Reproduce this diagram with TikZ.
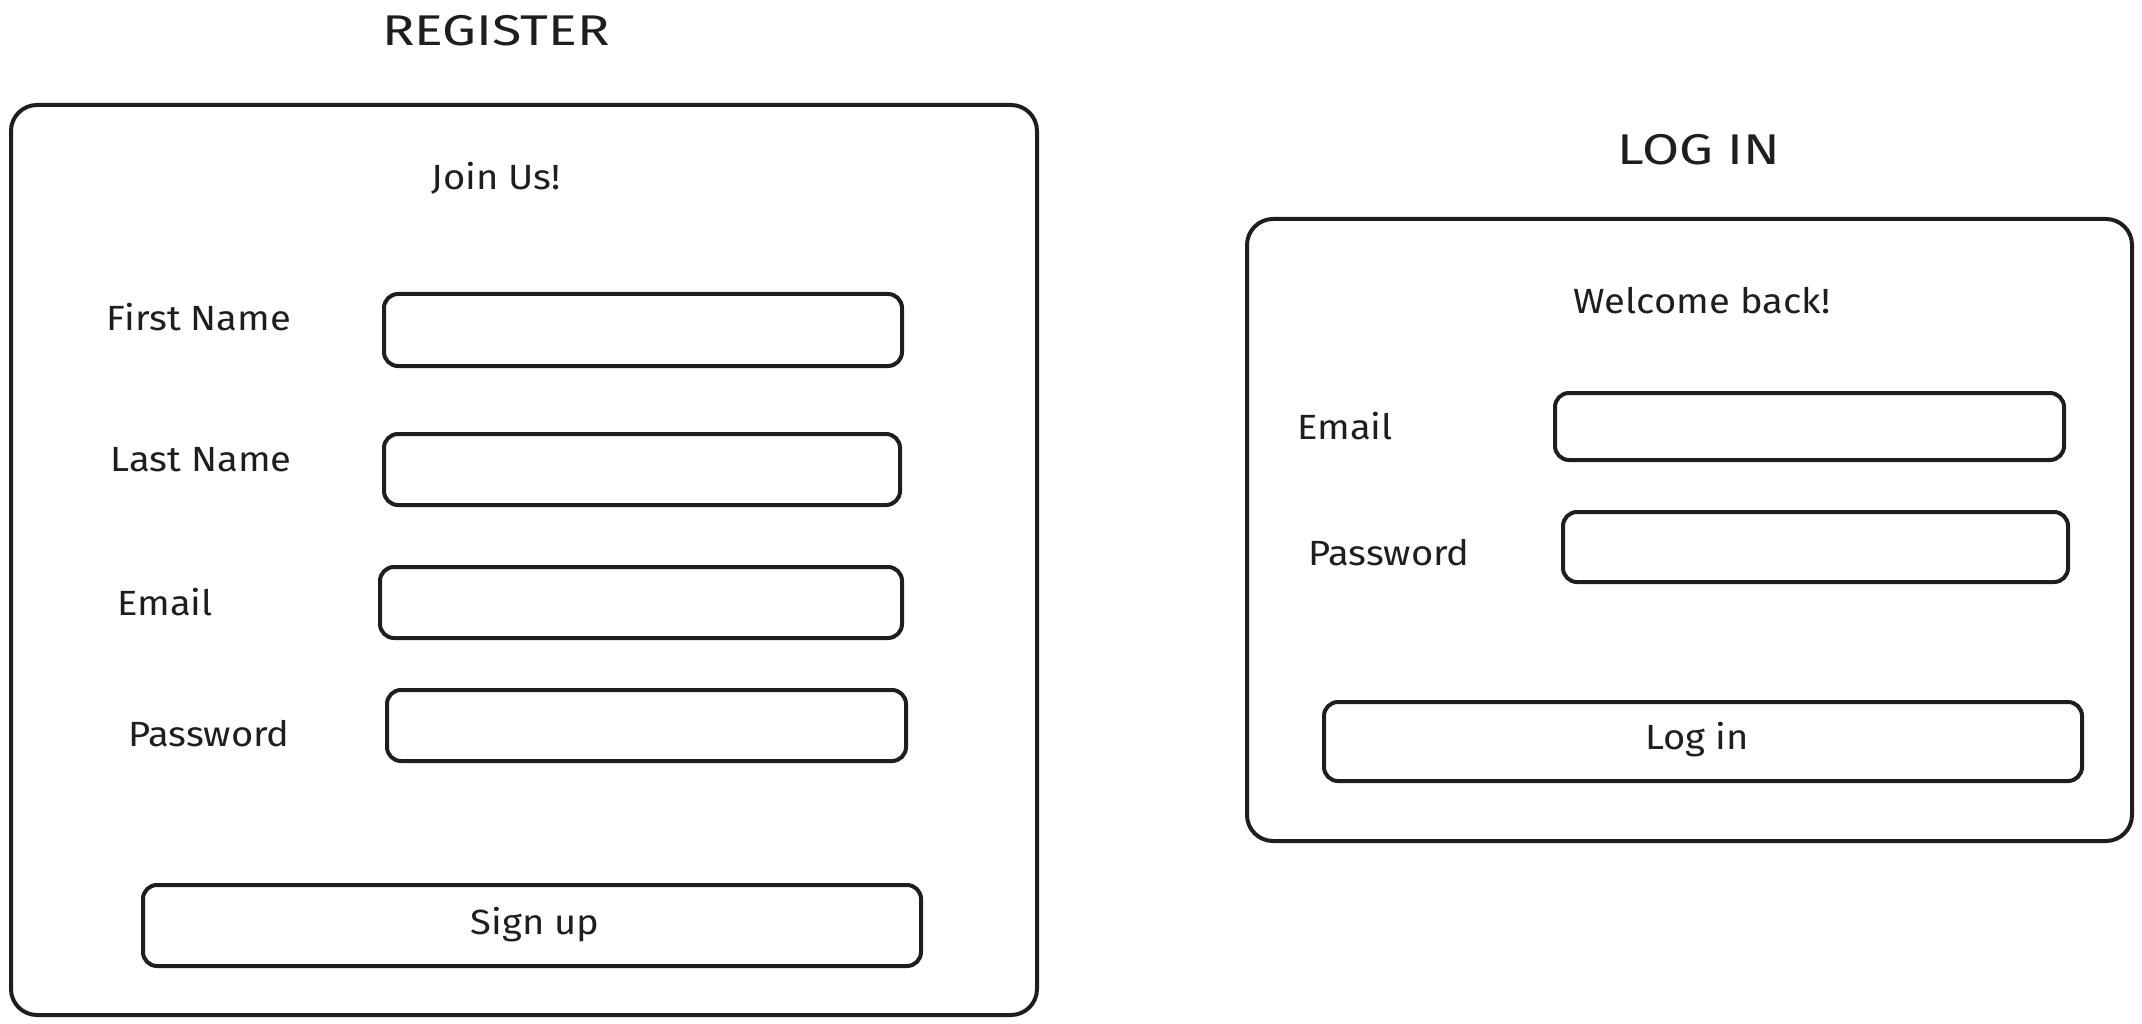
\documentclass[tikz,border=0pt]{standalone}
\usepackage{fontspec}
\setmainfont{Fira Sans}
\newfontfamily\lblfont[FakeStretch=1.09]{Fira Sans}
\newfontfamily\ttlfont[FakeStretch=1.25]{Fira Sans}
\definecolor{ink}{HTML}{1E1E1E}
\begin{document}
\begin{tikzpicture}[x=1pt,y=-1pt,
  panel/.style={draw=ink, line width=4pt, rounded corners=26pt, inner sep=0pt},
  field/.style={draw=ink, line width=4pt, rounded corners=14pt, inner sep=0pt},
  lbl/.style={text=ink, font=\lblfont\fontsize{35}{42}\selectfont, inner sep=0pt},
  ttl/.style={text=ink, font=\ttlfont\fontsize{43}{52}\selectfont, inner sep=0pt}]
\useasboundingbox (0,0) rectangle (2142,1024);
% Register
\node[ttl] (regtitle) at (496,31) {REGISTER};
\node[panel, minimum width=1026pt, minimum height=910pt] (regpanel) at (524,560) {};
\node[lbl] (join) at (496,178) {Join Us!};
\node[lbl] (fnl) at (199,317) {First Name};
\node[field, minimum width=518pt, minimum height=72pt] (fnf) at (643,330) {};
\node[lbl] (lnl) at (201,460) {Last Name};
\node[field, minimum width=516pt, minimum height=71pt] (lnf) at (642,469.5) {};
\node[lbl] (eml) at (165,602) {Email};
\node[field, minimum width=522pt, minimum height=71pt] (emf) at (641,602.5) {};
\node[lbl] (pwl) at (209,734) {Password};
\node[field, minimum width=519pt, minimum height=71pt] (pwf) at (646.5,725.5) {};
\node[field, minimum width=778pt, minimum height=81pt] (signup) at (532,925.5) {};
\node[lbl] (signuptxt) at (535,925) {Sign up};
% Log in
\node[ttl] (logtitle) at (1699,150) {LOG IN};
\node[panel, minimum width=885pt, minimum height=622pt] (logpanel) at (1689.5,530) {};
\node[lbl] (welcome) at (1702,301) {Welcome back!};
\node[lbl] (leml) at (1345,426) {Email};
\node[field, minimum width=509pt, minimum height=67pt] (lemf) at (1809.5,426.5) {};
\node[lbl] (lpwl) at (1389,553) {Password};
\node[field, minimum width=505pt, minimum height=70pt] (lpwf) at (1815.5,547) {};
\node[field, minimum width=758pt, minimum height=79pt] (login) at (1703,741.5) {};
\node[lbl] (logintxt) at (1697,740) {Log in};
\end{tikzpicture}
\end{document}
